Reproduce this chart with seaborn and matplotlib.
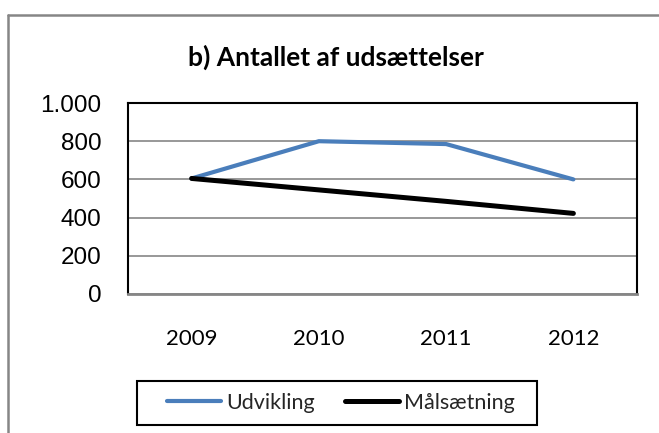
import matplotlib
matplotlib.use("Agg")
import matplotlib.pyplot as plt
import seaborn as sns
import pandas as pd
from matplotlib.patches import Rectangle
from matplotlib.lines import Line2D

years = ["2009", "2010", "2011", "2012"]
udvikling = [605, 800, 785, 600]
maalsaetning = [605, 545, 485, 422]
series_names = ["Udvikling", "Målsætning"]
y_ticks = [0, 200, 400, 600, 800, 1000]
y_tick_labels = ["0", "200", "400", "600", "800", "1.000"]
title = "b) Antallet af udsættelser"

df = pd.DataFrame({
    "year": years * 2,
    "value": udvikling + maalsaetning,
    "series": [series_names[0]] * len(years) + [series_names[1]] * len(years),
})

sns.set_theme(style="white")
plt.rcParams["font.family"] = ["Lato", "DejaVu Sans"]

W, H = 659, 433
fig = plt.figure(figsize=(W / 100, H / 100), dpi=100)
ax = fig.add_axes([128 / W, 1 - 294 / H, (637 - 128) / W, (294 - 103) / H])

palette = {series_names[0]: "#4A7EBB", series_names[1]: "#000000"}
widths = [3.0, 3.6]
sns.lineplot(data=df, x="year", y="value", hue="series", palette=palette,
             ax=ax, sort=False, legend=False)
for line, lw in zip(ax.lines, widths):
    line.set_linewidth(lw)
    line.set_solid_capstyle("round")

ax.set_xlim(-0.5, 3.5)
ax.set_ylim(0, 1000)
ax.set_yticks(y_ticks)
ax.set_yticklabels(y_tick_labels, fontfamily="Liberation Sans", fontsize=17.5)
ax.tick_params(axis="y", length=0, pad=19, colors="black")
ax.tick_params(axis="x", length=0, pad=25, labelsize=16, colors="black")
ax.set_xlabel("")
ax.set_ylabel("")
ax.yaxis.grid(True, color="#868686", linewidth=1.2)
ax.set_axisbelow(True)
for side in ["left", "top", "right"]:
    ax.spines[side].set_color("black")
    ax.spines[side].set_linewidth(1.5)
ax.spines["bottom"].set_color("#868686")
ax.spines["bottom"].set_linewidth(2)

fig.text(336 / W, 1 - 57 / H, title, ha="center", va="center",
         fontsize=19, fontweight="bold", color="black")

# outer chart border (top and left edges visible)
fig.add_artist(Line2D([8 / W, 8 / W], [0, 1 - 15 / H], transform=fig.transFigure,
                      color="#868686", linewidth=1.8))
fig.add_artist(Line2D([8 / W, 1], [1 - 15 / H, 1 - 15 / H], transform=fig.transFigure,
                      color="#868686", linewidth=1.8))

# legend box
fig.add_artist(Rectangle((137 / W, 1 - 425 / H), 400 / W, 44 / H,
                         transform=fig.transFigure, fill=False,
                         edgecolor="black", linewidth=1.5))
handles = [Line2D([], [], color=palette[n], linewidth=lw, solid_capstyle="round")
           for n, lw in zip(series_names, widths)]
leg = fig.legend(handles, series_names, loc="center",
                 bbox_to_anchor=(341 / W, 1 - 403 / H), ncol=2,
                 frameon=False, fontsize=15.5, handlelength=2.5,
                 handletextpad=0.25, columnspacing=1.4, borderpad=0.3)

fig.savefig("out.png", dpi=100)
